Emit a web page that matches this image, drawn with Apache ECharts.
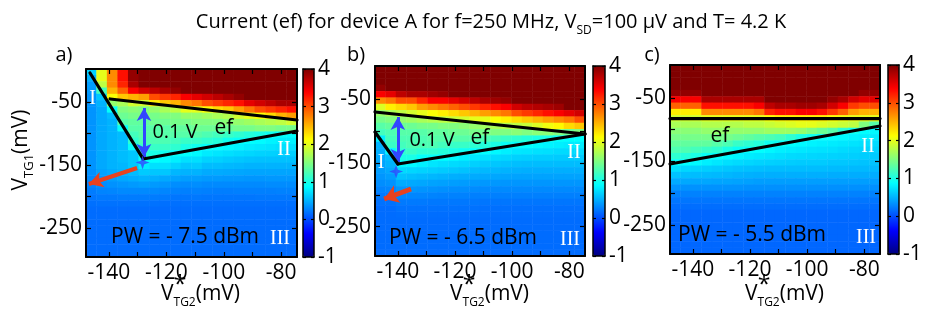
<!DOCTYPE html>
<html><head><meta charset="utf-8">
<script src="https://cdn.jsdelivr.net/npm/echarts@6/dist/echarts.min.js"></script>
<style>html,body{margin:0;padding:0;background:#fff}#c{width:936px;height:312px}</style>
</head><body><div id="c"></div>
<script>
// ---------- data ----------
const xLabelTicks = [-140, -120, -100, -80];
const xMinorTicks = [-140, -130, -120, -110, -100, -90, -80];
const yLabelTicks = [-250, -150, -50];
const yMinorTicks = [-250, -200, -150, -100, -50];
const xRange = [-148, -74.5];
const yRange = [-296, 2];
const cbRange = [-1, 4];

// current maps, rows from top (V_TG1 ~ 0 mV) to bottom (~ -296 mV), 20 columns from -148 to -74.5 mV
const heatA = [
[0.65,2.0,2.7,3.3,3.9,4,4,4,4,4,4,4,4,4,4,4,4,4,4,4],
[0.5,2.0,2.7,3.3,3.9,4,4,4,4,4,4,4,4,4,4,4,4,4,4,4],
[0.4,1.8,2.7,3.2,3.8,4,4,4,4,4,4,4,4,4,4,4,4,4,4,4],
[0.38,1.2,2.5,2.9,3.4,3.6,3.7,3.8,3.9,4,4,4,4,4,4,4,4,4,4,4],
[0.35,0.6,2.1,2.4,2.5,2.6,3.0,3.1,3.2,3.4,3.5,3.6,3.7,3.8,3.9,4,4,4,4,4],
[0.35,0.5,1.6,1.7,1.9,1.9,2.2,2.4,2.5,2.7,2.8,3.0,3.1,3.2,3.3,3.5,3.6,3.7,3.8,3.8],
[0.35,0.45,0.9,1.5,1.55,1.5,1.6,1.7,1.8,2.0,2.0,2.1,2.3,2.4,2.6,2.8,3.0,3.1,3.2,3.3],
[0.35,0.45,0.55,1.4,1.45,1.5,1.45,1.5,1.5,1.6,1.6,1.65,1.7,1.75,1.9,2.0,2.1,2.3,2.5,2.6],
[0.35,0.45,0.5,1.3,1.35,1.35,1.4,1.4,1.45,1.45,1.5,1.5,1.5,1.55,1.6,1.65,1.7,1.75,1.8,1.9],
[0.35,0.45,0.5,0.9,1.3,1.3,1.3,1.3,1.35,1.35,1.4,1.4,1.4,1.4,1.45,1.45,1.5,1.5,1.45,1.45],
[0.35,0.45,0.5,0.55,1.2,1.3,1.3,1.3,1.3,1.3,1.3,1.25,1.2,1.15,1.1,1.05,1.0,0.95,0.9,0.88],
[0.35,0.45,0.5,0.55,1.1,1.25,1.25,1.25,1.2,1.15,1.15,1.1,1.05,0.95,0.9,0.88,0.86,0.82,0.8,0.8],
[0.35,0.45,0.5,0.55,0.9,1.15,1.15,1.15,1.1,1.0,0.95,0.9,0.88,0.85,0.82,0.78,0.76,0.74,0.72,0.72],
[0.35,0.45,0.5,0.55,0.6,1.1,1.0,0.95,0.9,0.88,0.85,0.78,0.75,0.72,0.7,0.68,0.66,0.65,0.64,0.64],
[0.35,0.45,0.5,0.55,0.6,0.9,0.88,0.85,0.8,0.72,0.72,0.66,0.65,0.62,0.6,0.58,0.57,0.57,0.57,0.57],
[0.35,0.45,0.5,0.52,0.6,0.78,0.72,0.72,0.66,0.6,0.62,0.55,0.55,0.53,0.52,0.5,0.5,0.5,0.5,0.5],
[0.33,0.42,0.46,0.5,0.55,0.62,0.6,0.6,0.52,0.5,0.5,0.46,0.46,0.45,0.44,0.43,0.43,0.43,0.43,0.43],
[0.3,0.38,0.4,0.44,0.47,0.5,0.48,0.45,0.42,0.4,0.4,0.38,0.38,0.37,0.37,0.36,0.36,0.37,0.37,0.37],
[0.27,0.32,0.34,0.36,0.38,0.4,0.38,0.36,0.32,0.31,0.32,0.3,0.3,0.3,0.3,0.3,0.3,0.31,0.31,0.31],
[0.23,0.27,0.28,0.3,0.3,0.3,0.3,0.28,0.26,0.25,0.26,0.25,0.24,0.24,0.25,0.25,0.25,0.25,0.26,0.26],
[0.2,0.22,0.22,0.23,0.23,0.23,0.23,0.22,0.2,0.2,0.21,0.2,0.2,0.2,0.2,0.2,0.21,0.21,0.21,0.21],
[0.17,0.18,0.18,0.18,0.18,0.18,0.18,0.17,0.17,0.17,0.17,0.17,0.17,0.17,0.17,0.17,0.17,0.17,0.17,0.17],
[0.15,0.15,0.15,0.15,0.15,0.15,0.15,0.15,0.15,0.15,0.15,0.15,0.15,0.15,0.15,0.15,0.15,0.15,0.15,0.15],
[0.15,0.15,0.15,0.15,0.15,0.15,0.15,0.15,0.15,0.15,0.15,0.15,0.15,0.15,0.15,0.15,0.15,0.15,0.15,0.15],
[0.15,0.15,0.15,0.15,0.15,0.15,0.15,0.15,0.15,0.15,0.15,0.15,0.15,0.15,0.15,0.15,0.15,0.15,0.15,0.15],
[0.15,0.15,0.15,0.15,0.15,0.15,0.15,0.15,0.15,0.15,0.15,0.15,0.15,0.15,0.15,0.15,0.15,0.15,0.15,0.15],
[0.15,0.15,0.15,0.15,0.15,0.15,0.15,0.15,0.15,0.15,0.15,0.15,0.15,0.15,0.15,0.15,0.15,0.15,0.15,0.15],
[0.15,0.15,0.15,0.15,0.15,0.15,0.15,0.15,0.15,0.15,0.15,0.15,0.15,0.15,0.15,0.15,0.15,0.15,0.15,0.15],
[0.15,0.15,0.15,0.15,0.15,0.15,0.15,0.15,0.15,0.15,0.15,0.15,0.15,0.15,0.15,0.15,0.15,0.15,0.15,0.15],
[0.15,0.15,0.15,0.15,0.15,0.15,0.15,0.15,0.15,0.15,0.15,0.15,0.15,0.15,0.15,0.15,0.15,0.15,0.15,0.15]
];
const heatB = [
[4,4,4,4,4,4,4,4,4,4,4,4,4,4,4,4,4,4,4,4],
[4,4,4,4,4,4,4,4,4,4,4,4,4,4,4,4,4,4,4,4],
[4,4,4,4,4,4,4,4,4,4,4,4,4,4,4,4,4,4,4,4],
[3.9,4,4,4,4,4,4,4,4,4,4,4,4,4,4,4,4,4,4,4],
[3.4,3.5,3.7,3.8,3.8,3.85,3.9,4,4,4,4,4,4,4,4,4,4,4,4,4],
[2.7,2.8,3.0,3.0,3.2,3.4,3.4,3.5,3.6,3.7,3.8,3.85,3.9,4,4,4,4,4,4,4],
[1.95,2.2,2.3,2.4,2.6,2.7,2.8,2.9,3.0,3.1,3.2,3.3,3.4,3.6,3.7,3.75,3.8,3.85,4,4],
[1.6,1.7,1.8,1.9,2.0,2.1,2.2,2.3,2.4,2.5,2.6,2.7,2.8,3.0,3.1,3.2,3.3,3.4,3.5,3.6],
[1.45,1.5,1.6,1.65,1.7,1.75,1.8,1.85,1.9,2.0,2.0,2.1,2.2,2.3,2.4,2.5,2.6,2.7,2.8,3.0],
[1.3,1.35,1.4,1.4,1.45,1.45,1.5,1.5,1.55,1.6,1.65,1.7,1.75,1.8,1.85,1.95,2.05,2.15,2.3,2.4],
[1.2,1.25,1.3,1.3,1.3,1.35,1.35,1.4,1.4,1.45,1.45,1.5,1.5,1.55,1.5,1.55,1.55,1.5,1.4,1.5],
[0.8,1.2,1.25,1.25,1.25,1.3,1.3,1.3,1.3,1.3,1.25,1.2,1.15,1.1,1.05,1.0,1.0,0.9,0.88,0.88],
[0.5,1.15,1.2,1.25,1.25,1.25,1.2,1.15,1.15,1.1,1.05,1.0,0.92,0.9,0.88,0.85,0.82,0.8,0.78,0.78],
[0.48,0.85,1.1,1.15,1.1,1.1,1.05,1.0,0.95,0.9,0.88,0.85,0.8,0.76,0.75,0.73,0.72,0.7,0.7,0.7],
[0.45,0.55,1.0,1.0,0.9,0.9,0.88,0.85,0.8,0.75,0.72,0.7,0.68,0.65,0.64,0.63,0.63,0.62,0.62,0.62],
[0.42,0.5,0.85,0.85,0.8,0.75,0.72,0.7,0.68,0.65,0.62,0.6,0.58,0.56,0.55,0.55,0.55,0.55,0.55,0.55],
[0.4,0.45,0.7,0.68,0.66,0.64,0.62,0.6,0.58,0.55,0.53,0.52,0.5,0.49,0.48,0.48,0.48,0.48,0.48,0.48],
[0.36,0.4,0.58,0.56,0.54,0.52,0.5,0.48,0.47,0.46,0.45,0.44,0.43,0.42,0.42,0.42,0.42,0.42,0.42,0.42],
[0.32,0.34,0.46,0.45,0.44,0.42,0.41,0.4,0.39,0.38,0.37,0.37,0.36,0.36,0.36,0.36,0.36,0.36,0.36,0.36],
[0.27,0.28,0.36,0.36,0.35,0.34,0.33,0.32,0.32,0.31,0.3,0.3,0.3,0.3,0.3,0.3,0.3,0.3,0.3,0.3],
[0.22,0.22,0.28,0.28,0.28,0.27,0.26,0.26,0.26,0.25,0.25,0.25,0.25,0.25,0.25,0.25,0.25,0.25,0.25,0.25],
[0.18,0.18,0.22,0.22,0.22,0.21,0.21,0.21,0.21,0.21,0.2,0.2,0.2,0.2,0.2,0.2,0.2,0.2,0.2,0.2],
[0.15,0.15,0.18,0.18,0.18,0.18,0.18,0.18,0.18,0.18,0.17,0.17,0.17,0.17,0.17,0.17,0.17,0.17,0.17,0.17],
[0.15,0.15,0.16,0.16,0.16,0.16,0.16,0.16,0.16,0.16,0.16,0.16,0.16,0.16,0.16,0.16,0.16,0.16,0.16,0.16],
[0.15,0.15,0.15,0.15,0.15,0.15,0.15,0.15,0.15,0.15,0.15,0.15,0.15,0.15,0.15,0.15,0.15,0.15,0.15,0.15],
[0.15,0.15,0.15,0.15,0.15,0.15,0.15,0.15,0.15,0.15,0.15,0.15,0.15,0.15,0.15,0.15,0.15,0.15,0.15,0.15],
[0.15,0.15,0.15,0.15,0.15,0.15,0.15,0.15,0.15,0.15,0.15,0.15,0.15,0.15,0.15,0.15,0.15,0.15,0.15,0.15],
[0.15,0.15,0.15,0.15,0.15,0.15,0.15,0.15,0.15,0.15,0.15,0.15,0.15,0.15,0.15,0.15,0.15,0.15,0.15,0.15],
[0.15,0.15,0.15,0.15,0.15,0.15,0.15,0.15,0.15,0.15,0.15,0.15,0.15,0.15,0.15,0.15,0.15,0.15,0.15,0.15],
[0.15,0.15,0.15,0.15,0.15,0.15,0.15,0.15,0.15,0.15,0.15,0.15,0.15,0.15,0.15,0.15,0.15,0.15,0.15,0.15]
];
const heatC = [
[4,4,4,4,4,4,4,4,4,4,4,4,4,4,4,4,4,4,4,4],
[4,4,4,4,4,4,4,4,4,4,4,4,4,4,4,4,4,4,4,4],
[4,4,4,4,4,4,4,4,4,4,4,4,4,4,4,4,4,4,4,4],
[4,4,4,4,4,4,4,4,4,4,4,4,4,4,4,4,4,4,4,4],
[3.9,3.9,3.9,4,4,4,4,4,4,4,4,4,4,4,4,4,4,4,3.9,3.9],
[3.4,3.4,3.4,3.8,3.8,3.8,3.8,3.8,3.8,4,4,4,4,4,4,3.9,3.8,3.6,3.5,3.5],
[2.9,2.9,2.9,3.3,3.3,3.3,3.3,3.3,3.4,3.7,3.8,3.8,3.85,3.85,3.8,3.6,3.4,3.1,3.0,3.0],
[2.2,2.2,2.2,2.7,2.7,2.7,2.7,2.7,2.8,3.2,3.3,3.3,3.4,3.4,3.3,3.1,2.9,2.6,2.5,2.5],
[1.9,1.9,1.9,2.0,2.0,2.0,2.0,2.0,2.0,2.1,2.2,2.2,2.2,2.2,2.2,2.1,2.05,2.0,2.0,2.0],
[1.7,1.7,1.7,1.75,1.75,1.75,1.75,1.8,1.8,1.85,1.9,1.95,2.0,2.0,1.95,1.9,1.85,1.8,1.5,1.3],
[1.55,1.55,1.55,1.6,1.6,1.6,1.6,1.6,1.6,1.65,1.65,1.65,1.6,1.5,1.4,1.3,1.1,0.95,0.88,0.85],
[1.45,1.45,1.45,1.45,1.45,1.45,1.4,1.35,1.3,1.25,1.2,1.1,1.0,0.95,0.9,0.88,0.86,0.82,0.8,0.78],
[1.35,1.35,1.35,1.35,1.3,1.25,1.15,1.1,1.05,0.95,0.92,0.88,0.85,0.82,0.8,0.78,0.76,0.74,0.72,0.7],
[1.25,1.25,1.2,1.15,1.1,1.0,0.92,0.9,0.88,0.84,0.8,0.78,0.76,0.74,0.73,0.72,0.7,0.68,0.67,0.66],
[1.1,1.05,1.0,0.92,0.9,0.86,0.82,0.78,0.76,0.74,0.72,0.7,0.69,0.68,0.67,0.66,0.65,0.64,0.63,0.62],
[0.9,0.88,0.85,0.8,0.76,0.72,0.7,0.68,0.66,0.65,0.64,0.63,0.62,0.62,0.62,0.6,0.6,0.59,0.58,0.58],
[0.72,0.68,0.66,0.64,0.62,0.6,0.58,0.57,0.56,0.55,0.55,0.55,0.55,0.55,0.55,0.54,0.54,0.53,0.53,0.53],
[0.58,0.56,0.55,0.54,0.53,0.52,0.5,0.49,0.48,0.48,0.48,0.48,0.48,0.48,0.48,0.47,0.47,0.47,0.47,0.47],
[0.46,0.45,0.44,0.44,0.43,0.43,0.42,0.41,0.4,0.4,0.4,0.4,0.4,0.4,0.4,0.4,0.4,0.4,0.4,0.4],
[0.35,0.34,0.34,0.34,0.34,0.34,0.34,0.33,0.33,0.33,0.33,0.33,0.33,0.33,0.33,0.33,0.33,0.33,0.33,0.33],
[0.26,0.26,0.26,0.26,0.26,0.26,0.26,0.26,0.26,0.26,0.26,0.26,0.26,0.26,0.26,0.26,0.26,0.26,0.26,0.26],
[0.2,0.2,0.2,0.2,0.2,0.2,0.2,0.2,0.2,0.2,0.2,0.2,0.2,0.2,0.2,0.2,0.2,0.2,0.2,0.2],
[0.16,0.16,0.16,0.16,0.16,0.16,0.16,0.16,0.16,0.16,0.16,0.16,0.16,0.16,0.16,0.16,0.16,0.16,0.16,0.16],
[0.13,0.13,0.13,0.13,0.13,0.13,0.13,0.13,0.13,0.13,0.13,0.13,0.13,0.13,0.13,0.13,0.13,0.13,0.13,0.13],
[0.13,0.13,0.13,0.13,0.13,0.13,0.13,0.13,0.13,0.13,0.13,0.13,0.13,0.13,0.13,0.13,0.13,0.13,0.13,0.13],
[0.13,0.13,0.13,0.13,0.13,0.13,0.13,0.13,0.13,0.13,0.13,0.13,0.13,0.13,0.13,0.13,0.13,0.13,0.13,0.13],
[0.13,0.13,0.13,0.13,0.13,0.13,0.13,0.13,0.13,0.13,0.13,0.13,0.13,0.13,0.13,0.13,0.13,0.13,0.13,0.13],
[0.13,0.13,0.13,0.13,0.13,0.13,0.13,0.13,0.13,0.13,0.13,0.13,0.13,0.13,0.13,0.13,0.13,0.13,0.13,0.13],
[0.13,0.13,0.13,0.13,0.13,0.13,0.13,0.13,0.13,0.13,0.13,0.13,0.13,0.13,0.13,0.13,0.13,0.13,0.13,0.13],
[0.13,0.13,0.13,0.13,0.13,0.13,0.13,0.13,0.13,0.13,0.13,0.13,0.13,0.13,0.13,0.13,0.13,0.13,0.13,0.13]
];

// guide lines (mV coordinates [V_TG2*, V_TG1])
const linesA = [
  [[-146.6, -4.3], [-128.1, -140.6]],
  [[-139.6, -45.5], [-74.5, -78.8]],
  [[-128.1, -140.6], [-74.5, -96.3]]
];
const linesB = [
  [[-148, -70.1], [-74.5, -104.6]],
  [[-140, -151.7], [-74.5, -104.6]],
  [[-148, -101.5], [-140, -151.7]]
];
const linesC = [
  [[-148, -82.4], [-74.5, -82.4]],
  [[-148, -154.1], [-74.5, -94.2]]
];
const blueArrowA = [[-127.8, -59.8], [-127.8, -137.5]];
const blueArrowB = [[-140, -78], [-140, -148.6]];
const starA = [-128.3, -146.2];
const starB = [-140.6, -163.5];
const redArrowA = [[-130.2, -154.9], [-147.0, -180.3]];
const redArrowB = [[-135.4, -190.9], [-144.8, -206.6]];

// ---------- chart ----------
const F = "'Open Sans', sans-serif";
const JET = ['#000080','#0000ff','#0080ff','#00ffff','#80ff80','#ffff00','#ff8000','#ff0000','#800000'];
const panels = [
  {grid:{left:86,top:69,width:211,height:188}, cb:{left:303,top:69,width:11,height:188}, rows:heatA, lines:linesA, blue:blueArrowA, star:starA, red:redArrowA, redW:4, redS:[12,14]},
  {grid:{left:375,top:66,width:210,height:190}, cb:{left:593,top:66,width:12,height:190}, rows:heatB, lines:linesB, blue:blueArrowB, star:starB, red:redArrowB, redW:5, redS:[14,14]},
  {grid:{left:670,top:65,width:210,height:189}, cb:{left:888,top:65,width:11,height:189}, rows:heatC, lines:linesC}
];
const grid = [], xAxis = [], yAxis = [], series = [], visualMap = [];
const colIds = heatA[0].map((_, i) => String(i));
const rowIds = heatA.map((_, i) => String(i));

panels.forEach((p, k) => {
  const gi = grid.length;
  grid.push(Object.assign({}, p.grid));
  xAxis.push({gridIndex: gi, type: 'category', data: colIds, show: false});
  yAxis.push({gridIndex: gi, type: 'category', data: rowIds, show: false, inverse: true});
  const cells = [];
  p.rows.forEach((row, r) => row.forEach((v, c) => cells.push([c, r, v])));
  series.push({type: 'heatmap', xAxisIndex: xAxis.length - 1, yAxisIndex: yAxis.length - 1,
    data: cells, silent: true, progressive: 0, itemStyle: {borderWidth: 0}, emphasis: {disabled: true}});
  visualMap.push({type: 'continuous', seriesIndex: k, min: cbRange[0], max: cbRange[1],
    inRange: {color: JET}, left: p.cb.left, top: p.cb.top, itemWidth: p.cb.width, itemHeight: p.cb.height,
    padding: 0, calculable: false, hoverLink: false, orient: 'vertical', text: null, showLabel: false, z: 4});
});

const axLine = {show: true, onZero: false, lineStyle: {color: '#000', width: 2}};
const tickSt = {color: '#000', width: 1.2};
panels.forEach((p, k) => {
  const gi = grid.length;
  grid.push(Object.assign({}, p.grid));
  const xb = xAxis.length;
  xAxis.push({gridIndex: gi, type: 'value', min: xRange[0], max: xRange[1], position: 'bottom', z: 10,
    axisLine: axLine, splitLine: {show: false},
    axisTick: {show: true, inside: true, length: 5, lineStyle: tickSt, customValues: xMinorTicks},
    axisLabel: {show: true, customValues: xLabelTicks, fontSize: 21, fontFamily: F, color: '#000', margin: 6}});
  xAxis.push({gridIndex: gi, type: 'value', min: xRange[0], max: xRange[1], position: 'top', z: 10,
    axisLine: axLine, splitLine: {show: false},
    axisTick: {show: true, inside: true, length: 5, lineStyle: tickSt, customValues: xMinorTicks},
    axisLabel: {show: false}});
  const yb = yAxis.length;
  yAxis.push({gridIndex: gi, type: 'value', min: yRange[0], max: yRange[1], position: 'left', z: 10,
    axisLine: axLine, splitLine: {show: false},
    axisTick: {show: true, inside: true, length: 5, lineStyle: tickSt, customValues: yMinorTicks},
    axisLabel: {show: true, customValues: yLabelTicks, fontSize: 21, fontFamily: F, color: '#000', margin: 4}});
  yAxis.push({gridIndex: gi, type: 'value', min: yRange[0], max: yRange[1], position: 'right', z: 10,
    axisLine: axLine, splitLine: {show: false},
    axisTick: {show: true, inside: true, length: 5, lineStyle: tickSt, customValues: yMinorTicks},
    axisLabel: {show: false}});
  p.lines.forEach((seg, i) => {
    const s = {type: 'line', xAxisIndex: xb, yAxisIndex: yb, data: seg, symbol: 'none', z: 5,
      lineStyle: {color: '#000', width: 3.2, cap: 'round'}, silent: true, animation: false};
    if (i === 0 && p.blue) {
      s.markLine = {silent: true, animation: false, symbol: ['arrow', 'arrow'], symbolSize: [11, 13],
        label: {show: false}, lineStyle: {color: '#3246ff', width: 3, type: 'solid'},
        data: [[{coord: p.blue[0]}, {coord: p.blue[1]}]]};
    }
    if (i === 1 && p.red) {
      s.markLine = {silent: true, animation: false, symbol: ['none', 'arrow'], symbolSize: p.redS,
        label: {show: false}, lineStyle: {color: '#e8421e', width: p.redW, type: 'solid'},
        data: [[{coord: p.red[0]}, {coord: p.red[1]}]]};
    }
    series.push(s);
  });
  if (p.star) {
    series.push({type: 'scatter', xAxisIndex: xb, yAxisIndex: yb, data: [p.star], z: 6, silent: true,
      symbol: 'path://M0,-10 L2.5,-2.5 L10,0 L2.5,2.5 L0,10 L-2.5,2.5 L-10,0 L-2.5,-2.5 Z',
      symbolSize: 14, itemStyle: {color: '#3246ff'}});
  }
  // colour bar frame + labels
  const gc = grid.length;
  grid.push({left: p.cb.left, top: p.cb.top, width: p.cb.width, height: p.cb.height});
  const cbLine = {show: true, onZero: false, lineStyle: {color: '#000', width: 1.5}};
  xAxis.push({gridIndex: gc, type: 'value', min: 0, max: 1, position: 'bottom', z: 10, axisLine: cbLine,
    axisTick: {show: false}, axisLabel: {show: false}, splitLine: {show: false}});
  xAxis.push({gridIndex: gc, type: 'value', min: 0, max: 1, position: 'top', z: 10, axisLine: cbLine,
    axisTick: {show: false}, axisLabel: {show: false}, splitLine: {show: false}});
  yAxis.push({gridIndex: gc, type: 'value', min: cbRange[0], max: cbRange[1], interval: 1, position: 'right', z: 10,
    axisLine: cbLine, splitLine: {show: false},
    axisTick: {show: true, inside: true, length: 3, lineStyle: tickSt},
    axisLabel: {fontSize: 21, fontFamily: F, color: '#000', margin: 4}});
  yAxis.push({gridIndex: gc, type: 'value', min: cbRange[0], max: cbRange[1], interval: 1, position: 'left', z: 10,
    axisLine: cbLine, splitLine: {show: false},
    axisTick: {show: true, inside: true, length: 3, lineStyle: tickSt}, axisLabel: {show: false}});
});

// ---------- texts ----------
function txt(x, y, text, size, opts) {
  return Object.assign({type: 'text', x: x, y: y, z: 100, silent: true,
    style: Object.assign({text: text, fontSize: size, fontFamily: F, fill: '#000', align: 'center', verticalAlign: 'middle'}, (opts && opts.style) || {})},
    (opts && opts.el) || {});
}
const sub = (fs) => ({fontSize: fs, lineHeight: fs, verticalAlign: 'bottom', fontFamily: F, fill: '#000'});
const roman = (x, y, t) => txt(x, y, t, 20, {style: {fill: '#fff', fontFamily: "'Liberation Serif', 'DejaVu Serif', serif"}});
const graphic = [
  txt(491, 22, 'Current (ef) for device A for f=250 MHz, V{s|SD}=100 μV and T= 4.2 K', 20,
      {style: {lineHeight: 29, rich: {s: sub(12)}}}),
  txt(64, 55, 'a)', 20), txt(356, 55, 'b)', 20), txt(652, 55, 'c)', 20),
  txt(21, 150, 'V{s|TG1}(mV)', 21, {style: {lineHeight: 30, rich: {s: sub(13)}}, el: {rotation: Math.PI / 2}}),
  // panel a
  roman(92.5, 99, 'I'), roman(284, 150, 'II'), roman(280, 239, 'III'),
  txt(175, 132, '0.1 V', 20), txt(224, 128, 'ef', 21),
  txt(185, 237, 'PW = - 7.5 dBm', 21),
  // panel b
  roman(381, 163, 'I'), roman(574, 153, 'II'), roman(570, 240, 'III'),
  txt(432, 140, '0.1 V', 20), txt(480, 138, 'ef', 21),
  txt(463, 238, 'PW = - 6.5 dBm', 21),
  // panel c
  roman(868, 147, 'II'), roman(866, 238, 'III'),
  txt(720, 136, 'ef', 21),
  txt(752, 235, 'PW = - 5.5 dBm', 21)
];
panels.forEach(p => {
  const x0 = p.grid.left + 75;
  graphic.push(txt(x0, 294, 'V{s|TG2}(mV)', 21, {style: {align: 'left', lineHeight: 30, rich: {s: sub(12)}}}));
  graphic.push(txt(x0 + 19, 285, '*', 23));
});

const chart = echarts.init(document.getElementById('c'), null, {renderer: 'canvas'});
chart.setOption({
  animation: false,
  backgroundColor: '#fff',
  grid, xAxis, yAxis, visualMap, series, graphic
});
</script>
</body></html>
